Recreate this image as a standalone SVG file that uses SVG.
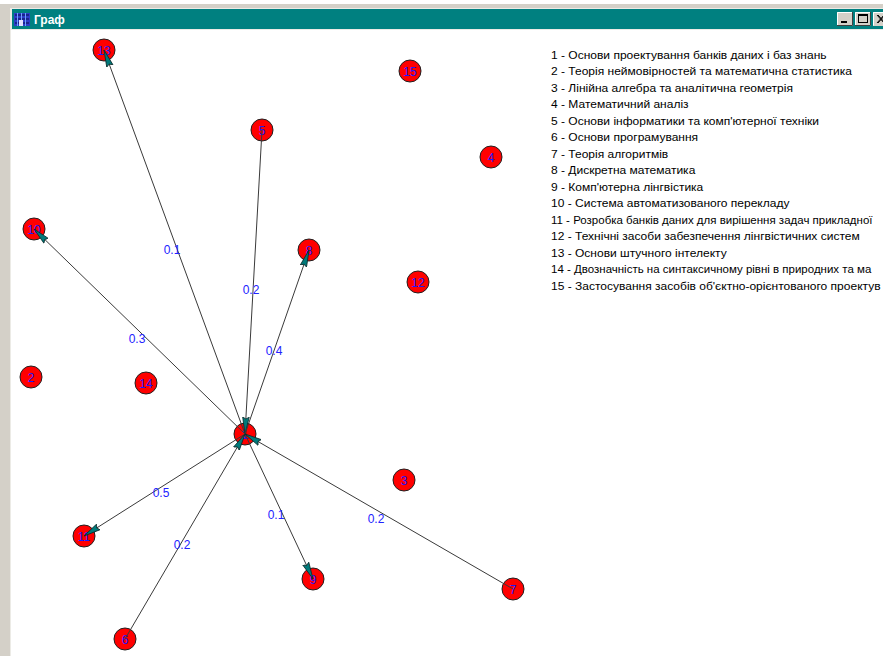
<svg xmlns="http://www.w3.org/2000/svg" width="883" height="656" viewBox="0 0 883 656">
  <style>
    .node circle { fill: #ff0000; stroke: #202020; stroke-width: 1; }
    .node text { font-family: "Liberation Sans", Arial, sans-serif; font-size: 12px; fill: #1a1aff; text-anchor: middle; }
    .edge { stroke: #3a3a3a; stroke-width: 1; fill: none; marker-end: url(#arrow); }
    .elabel { font-family: "Liberation Sans", Arial, sans-serif; font-size: 12px; fill: #2222ff; text-anchor: middle; }
    .legend text { font-family: "Liberation Sans", Arial, sans-serif; font-size: 11.5px; fill: #000000; }
    .legend text.tight { font-size: 11px; }
    .btn { fill: #d4d0c8; stroke: none; }
  </style>
  <defs>
    <marker id="arrow" markerUnits="userSpaceOnUse" viewBox="0 -4 18 8" refX="17" refY="0" markerWidth="18" markerHeight="8" orient="auto">
      <path d="M0,-3.3 L17,0 L0,3.3 L2,0 z" fill="#007a7a" stroke="#0b2b2b" stroke-width="0.8"/>
    </marker>
  </defs>

  <!-- window frame -->
  <g id="window">
    <rect x="0" y="0" width="883" height="656" fill="#ffffff"/>
    <rect x="0" y="4" width="883" height="652" fill="#d4d0c8"/>
    <rect x="10" y="8" width="873" height="648" fill="#ecebe6"/>
    <rect x="12" y="9" width="871" height="20" fill="#008080"/>
    <rect x="11" y="30" width="872" height="626" fill="#ffffff"/>
    <!-- icon -->
    <g id="icon">
      <rect x="14" y="13" width="16" height="13" fill="#2d3cc8"/>
      <path d="M15,15 H29 M15,19 H29 M15,23 H29" stroke="#0a0a50" stroke-width="1"/>
      <path d="M17.5,13 V26 M21.5,13 V26 M25.5,13 V26" stroke="#6fa0ff" stroke-width="1"/>
      <rect x="19" y="20" width="4" height="6" fill="#e0e0ff"/>
    </g>
    <text x="34" y="23.5" font-family="Liberation Sans, Arial, sans-serif" font-size="12" font-weight="bold" fill="#ffffff">Граф</text>
    <!-- buttons -->
    <g id="buttons">
      <rect class="btn" x="837" y="12" width="16" height="14"/>
      <path d="M837.5,25.5 V12.5 H852.5" stroke="#ffffff" fill="none"/>
      <path d="M837,25.5 H852.5 V12" stroke="#404040" fill="none"/>
      <rect x="841" y="21" width="6" height="2" fill="#000000"/>
      <rect class="btn" x="855" y="12" width="16" height="14"/>
      <path d="M855.5,25.5 V12.5 H870.5" stroke="#ffffff" fill="none"/>
      <path d="M855,25.5 H870.5 V12" stroke="#404040" fill="none"/>
      <rect x="858.5" y="14.5" width="9" height="8" fill="none" stroke="#000000"/>
      <rect x="858" y="14" width="10" height="2" fill="#000000"/>
      <rect class="btn" x="873" y="12" width="16" height="14"/>
      <path d="M873.5,25.5 V12.5 H888" stroke="#ffffff" fill="none"/>
      <path d="M877,15 L884,23 M878,15 L885,23 M884,15 L877,23 M885,15 L878,23" stroke="#000000" stroke-width="1"/>
    </g>
  </g>

  <!-- nodes -->
  <g id="node-1" class="node"><circle cx="245" cy="434" r="11"/><text x="245" y="438.5">1</text></g>
  <g id="node-2" class="node"><circle cx="31" cy="377" r="11"/><text x="31" y="381.5">2</text></g>
  <g id="node-3" class="node"><circle cx="404" cy="480" r="11"/><text x="404" y="484.5">3</text></g>
  <g id="node-4" class="node"><circle cx="491" cy="157" r="11"/><text x="491" y="161.5">4</text></g>
  <g id="node-5" class="node"><circle cx="262" cy="130" r="11"/><text x="262" y="134.5">5</text></g>
  <g id="node-6" class="node"><circle cx="125" cy="639" r="11"/><text x="125" y="643.5">6</text></g>
  <g id="node-7" class="node"><circle cx="513" cy="589" r="11"/><text x="513" y="593.5">7</text></g>
  <g id="node-8" class="node"><circle cx="309" cy="250" r="11"/><text x="309" y="254.5">8</text></g>
  <g id="node-9" class="node"><circle cx="313" cy="579" r="11"/><text x="313" y="583.5">9</text></g>
  <g id="node-10" class="node"><circle cx="34" cy="229" r="11"/><text x="34" y="233.5">10</text></g>
  <g id="node-11" class="node"><circle cx="84" cy="536" r="11"/><text x="84" y="540.5">11</text></g>
  <g id="node-12" class="node"><circle cx="418" cy="282" r="11"/><text x="418" y="286.5">12</text></g>
  <g id="node-13" class="node"><circle cx="104" cy="50" r="11"/><text x="104" y="54.5">13</text></g>
  <g id="node-14" class="node"><circle cx="146" cy="383" r="11"/><text x="146" y="387.5">14</text></g>
  <g id="node-15" class="node"><circle cx="410" cy="71" r="11"/><text x="410" y="75.5">15</text></g>

  <!-- connectors -->
  <g id="connectors">
    <line class="edge" x1="245" y1="434" x2="104" y2="50"/>
    <line class="edge" x1="262" y1="130" x2="245" y2="434"/>
    <line class="edge" x1="245" y1="434" x2="309" y2="250"/>
    <line class="edge" x1="245" y1="434" x2="34" y2="229"/>
    <line class="edge" x1="245" y1="434" x2="84" y2="536"/>
    <line class="edge" x1="125" y1="639" x2="245" y2="434"/>
    <line class="edge" x1="245" y1="434" x2="313" y2="579"/>
    <line class="edge" x1="513" y1="589" x2="245" y2="434"/>
    <text class="elabel" x="172" y="254">0.1</text>
    <text class="elabel" x="251" y="293.5">0.2</text>
    <text class="elabel" x="274" y="354.5">0.4</text>
    <text class="elabel" x="137" y="343">0.3</text>
    <text class="elabel" x="161" y="497">0.5</text>
    <text class="elabel" x="182" y="549">0.2</text>
    <text class="elabel" x="276" y="519">0.1</text>
    <text class="elabel" x="376" y="523">0.2</text>
  </g>

  <!-- legend -->
  <g id="legend" class="legend" transform="translate(551 0) scale(1.045 1) translate(-551 0)">
    <text x="551" y="59">1 - Основи проектування банків даних і баз знань</text>
    <text x="551" y="75.5">2 - Теорія неймовірностей та математична статистика</text>
    <text x="551" y="92">3 - Лінійна алгебра та аналітична геометрія</text>
    <text x="551" y="108.5">4 - Математичний аналіз</text>
    <text x="551" y="125">5 - Основи інформатики та комп'ютерної  техніки</text>
    <text x="551" y="141.5">6 - Основи програмування</text>
    <text x="551" y="158">7 - Теорія алгоритмів</text>
    <text x="551" y="174.5">8 - Дискретна математика</text>
    <text x="551" y="191">9 - Комп'ютерна лінгвістика</text>
    <text x="551" y="207.5">10 - Система автоматизованого перекладу</text>
    <text class="tight" x="551" y="224">11 - Розробка банків даних для вирішення задач прикладної</text>
    <text x="551" y="240.5">12 - Технічні засоби забезпечення лінгвістичних систем</text>
    <text x="551" y="257">13 - Основи штучного інтелекту</text>
    <text class="tight" x="551" y="273.5">14 - Двозначність на синтаксичному рівні в природних та ма</text>
    <text x="551" y="290">15 - Застосування засобів об'єктно-орієнтованого проектув</text>
  </g>
</svg>
